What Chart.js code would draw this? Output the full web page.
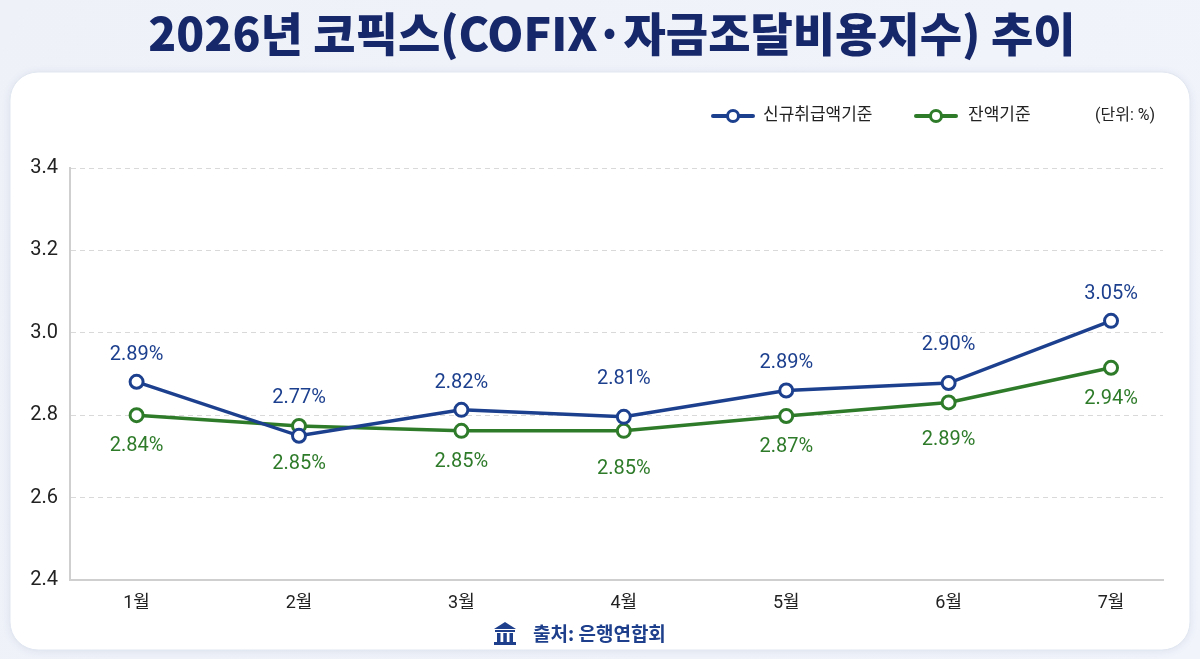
<!DOCTYPE html>
<html>
<head>
<meta charset="utf-8">
<script src="https://cdn.jsdelivr.net/npm/chart.js@4/dist/chart.umd.min.js"></script>
<style>
  html, body { margin: 0; padding: 0; background: #eef2f9; }
  #wrap { width: 1200px; height: 659px; }
</style>
</head>
<body>
<div id="wrap"><canvas id="c"></canvas></div>
<script>
var months = ['1월', '2월', '3월', '4월', '5월', '6월', '7월'];
// plotted positions
var newLoan = [2.881, 2.750, 2.813, 2.796, 2.860, 2.878, 3.029];
var balance = [2.800, 2.774, 2.762, 2.762, 2.798, 2.831, 2.915];
// printed value labels
var newLoanText = ['2.89%', '2.77%', '2.82%', '2.81%', '2.89%', '2.90%', '3.05%'];
var balanceText = ['2.84%', '2.85%', '2.85%', '2.85%', '2.87%', '2.89%', '2.94%'];
var yTicks = [2.4, 2.6, 2.8, 3.0, 3.2, 3.4];

var BLUE = '#1c3f8e';
var GREEN = '#2e7b2a';
var FONT = "Roboto, 'Noto Sans CJK KR', sans-serif";

function points(arr) {
  return arr.map(function(v, i) { return { x: i + 1, y: v }; });
}

function roundRect(ctx, x, y, w, h, r) {
  ctx.beginPath();
  ctx.moveTo(x + r, y);
  ctx.arcTo(x + w, y, x + w, y + h, r);
  ctx.arcTo(x + w, y + h, x, y + h, r);
  ctx.arcTo(x, y + h, x, y, r);
  ctx.arcTo(x, y, x + w, y, r);
  ctx.closePath();
}

var backdrop = {
  id: 'backdrop',
  beforeDraw: function(chart) {
    var ctx = chart.ctx;
    ctx.save();
    var g = ctx.createLinearGradient(0, 0, 1200, 659);
    g.addColorStop(0, '#eef1f8');
    g.addColorStop(1, '#f1f4fb');
    ctx.fillStyle = g;
    ctx.fillRect(0, 0, chart.width, chart.height);
    ctx.shadowColor = 'rgba(60,80,130,0.12)';
    ctx.shadowBlur = 8;
    ctx.shadowOffsetY = 1;
    roundRect(ctx, 10, 72, 1180, 578, 28);
    ctx.fillStyle = '#ffffff';
    ctx.fill();
    ctx.shadowColor = 'transparent';
    ctx.strokeStyle = '#e1e7f1';
    ctx.lineWidth = 1;
    ctx.stroke();
    ctx.restore();
  }
};

function legendMark(ctx, x, y, color) {
  ctx.strokeStyle = color;
  ctx.lineWidth = 4;
  ctx.lineCap = 'round';
  ctx.beginPath();
  ctx.moveTo(x, y);
  ctx.lineTo(x + 40, y);
  ctx.stroke();
  ctx.beginPath();
  ctx.arc(x + 20, y, 5.5, 0, Math.PI * 2);
  ctx.fillStyle = '#fff';
  ctx.fill();
  ctx.lineWidth = 3;
  ctx.stroke();
}

var decor = {
  id: 'decor',
  afterDraw: function(chart) {
    var ctx = chart.ctx;
    ctx.save();
    // title
    ctx.fillStyle = '#16276a';
    ctx.font = "900 46px 'Noto Sans CJK KR', sans-serif";
    ctx.textAlign = 'center';
    ctx.textBaseline = 'middle';
    ctx.fillText('2026년 코픽스(COFIX·자금조달비용지수) 추이', 612, 34);

    // legend
    ctx.textAlign = 'left';
    ctx.font = "17px " + FONT;
    legendMark(ctx, 713, 116, BLUE);
    ctx.fillStyle = '#222';
    ctx.fillText('신규취급액기준', 763, 116);
    legendMark(ctx, 916, 116, GREEN);
    ctx.fillStyle = '#222';
    ctx.fillText('잔액기준', 968, 116);
    ctx.font = "16px " + FONT;
    ctx.fillText('(단위: %)', 1095, 116);

    // source
    var ix = 494, iy = 622;
    ctx.fillStyle = '#1d3f8c';
    ctx.beginPath();
    ctx.moveTo(ix, iy + 7);
    ctx.lineTo(ix + 11, iy);
    ctx.lineTo(ix + 22, iy + 7);
    ctx.closePath();
    ctx.fill();
    ctx.fillRect(ix + 1, iy + 8, 20, 2);
    ctx.fillRect(ix + 3, iy + 11, 3.5, 9);
    ctx.fillRect(ix + 9.3, iy + 11, 3.5, 9);
    ctx.fillRect(ix + 15.5, iy + 11, 3.5, 9);
    ctx.fillRect(ix, iy + 20, 22, 3);
    ctx.font = "bold 19px 'Noto Sans CJK KR', sans-serif";
    ctx.fillText('출처: 은행연합회', 533, 634);
    ctx.restore();
  }
};

var valueLabels = {
  id: 'valueLabels',
  afterDatasetsDraw: function(chart) {
    var ctx = chart.ctx;
    var a = chart.getDatasetMeta(0).data;
    var b = chart.getDatasetMeta(1).data;
    ctx.save();
    ctx.font = "20px " + FONT;
    ctx.textAlign = 'center';
    ctx.textBaseline = 'middle';
    for (var i = 0; i < a.length; i++) {
      var close = Math.abs(a[i].y - b[i].y) < 20;
      ctx.fillStyle = BLUE;
      ctx.fillText(newLoanText[i], a[i].x, a[i].y - (close ? 38 : 27));
      ctx.fillStyle = GREEN;
      ctx.fillText(balanceText[i], b[i].x, b[i].y + (close ? 38 : 31));
    }
    ctx.restore();
  }
};

var ctx1 = document.getElementById('c');

new Chart(ctx1, {
  type: 'line',
  plugins: [backdrop, valueLabels, decor],
  data: {
    datasets: [
      {
        label: '신규취급액기준',
        data: points(newLoan),
        borderColor: BLUE,
        borderWidth: 3.5,
        pointRadius: 6.5,
        pointBorderWidth: 3,
        pointBackgroundColor: '#fff',
        pointBorderColor: BLUE,
        tension: 0,
      },
      {
        label: '잔액기준',
        data: points(balance),
        borderColor: GREEN,
        borderWidth: 3.5,
        pointRadius: 6.5,
        pointBorderWidth: 3,
        pointBackgroundColor: '#fff',
        pointBorderColor: GREEN,
        tension: 0,
      },
    ],
  },
  options: {
    responsive: true,
    maintainAspectRatio: false,
    animation: false,
    devicePixelRatio: 1,
    layout: {
      padding: { top: 168, left: 10, right: 37, bottom: 0 },
    },
    scales: {
      x: {
        type: 'linear',
        min: 0.59,
        max: 7.32,
        afterBuildTicks: function(scale) {
          scale.ticks = months.map(function(m, i) { return { value: i + 1 }; });
        },
        afterFit: function(scale) {
          scale.height = 79;
        },
        grid: { display: false },
        border: { display: true, color: '#cfcfcf', width: 2 },
        ticks: {
          autoSkip: false,
          maxRotation: 0,
          padding: 5,
          color: '#222',
          font: { family: FONT, size: 18 },
          callback: function(value) {
            return months[value - 1];
          },
        },
      },
      y: {
        min: 2.4,
        max: 3.4,
        afterBuildTicks: function(scale) {
          scale.ticks = yTicks.map(function(v) { return { value: v }; });
        },
        afterFit: function(scale) {
          scale.width = 60;
        },
        grid: {
          color: '#d9d9d9',
          drawTicks: false,
        },
        border: { display: true, color: '#cfcfcf', width: 2, dash: [5, 4] },
        ticks: {
          padding: 12,
          color: '#222',
          font: { family: FONT, size: 20 },
          callback: function(value) {
            return value.toFixed(1);
          },
        },
      },
    },
    plugins: {
      legend: { display: false },
      title: { display: false },
      tooltip: { enabled: false },
    },
  },
});
</script>
</body>
</html>
